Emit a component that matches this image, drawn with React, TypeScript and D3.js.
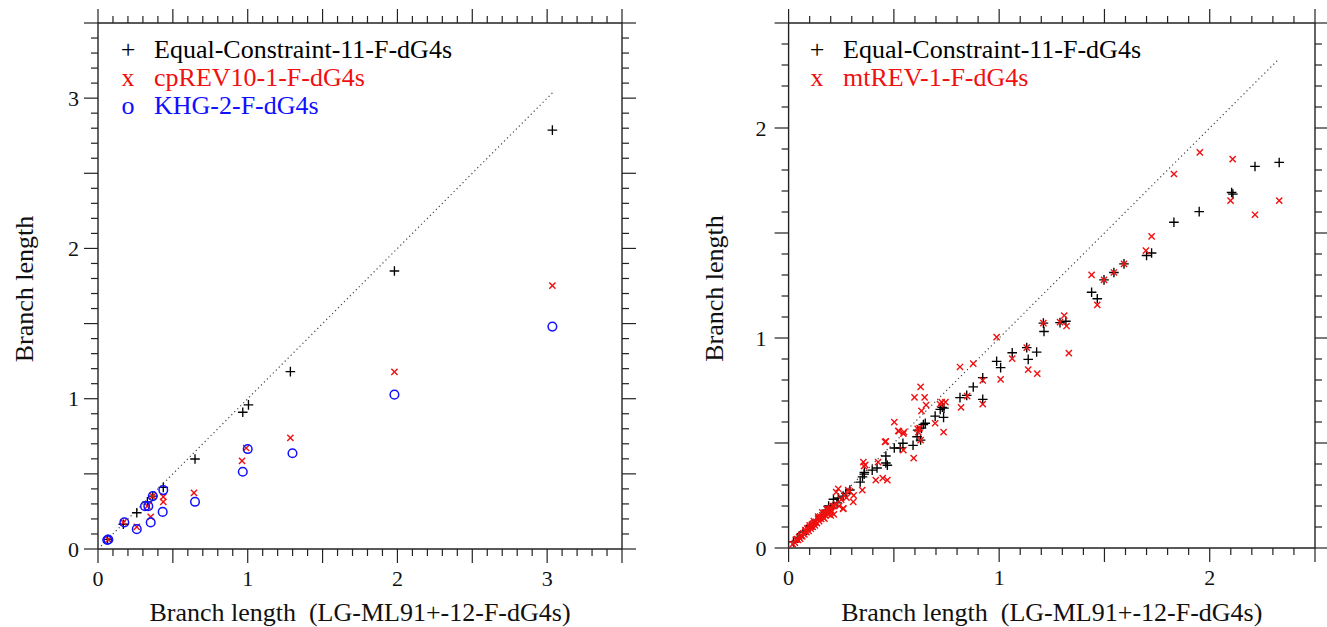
import React from 'react';
import * as d3 from 'd3';

// ---------- Data ----------
const xTitle = 'Branch length  (LG-ML91+-12-F-dG4s)';
const yTitle = 'Branch length';

const leftTickLabels = [0, 1, 2, 3];
const rightTickLabels = [0, 1, 2];

const leftLegend = ['Equal-Constraint-11-F-dG4s', 'cpREV10-1-F-dG4s', 'KHG-2-F-dG4s'];
const rightLegend = ['Equal-Constraint-11-F-dG4s', 'mtREV-1-F-dG4s'];

const leftEqual: [number, number][] = [
  [0.064, 0.064], [0.169, 0.165], [0.259, 0.241], [0.33, 0.314], [0.366, 0.352],
  [0.436, 0.41], [0.648, 0.599], [0.967, 0.91], [1.005, 0.959], [1.285, 1.18],
  [1.98, 1.85], [3.035, 2.787],
];
const leftCpREV: [number, number][] = [
  [0.069, 0.063], [0.169, 0.177], [0.259, 0.147], [0.33, 0.285], [0.352, 0.214],
  [0.366, 0.352], [0.436, 0.347], [0.436, 0.314], [0.641, 0.373], [0.962, 0.587],
  [0.99, 0.672], [1.285, 0.739], [1.98, 1.179], [3.035, 1.752],
];
const leftKHG: [number, number][] = [
  [0.069, 0.063], [0.062, 0.06], [0.176, 0.177], [0.259, 0.132], [0.314, 0.285],
  [0.336, 0.285], [0.352, 0.177], [0.366, 0.352], [0.432, 0.247], [0.436, 0.392],
  [0.648, 0.314], [0.967, 0.514], [1.0, 0.665], [1.299, 0.637], [1.98, 1.027],
  [3.035, 1.48],
];

const rightEqual: [number, number][] = [
  [2.33, 1.836], [2.215, 1.817], [2.104, 1.693], [2.11, 1.685], [1.95, 1.602],
  [1.83, 1.551], [1.724, 1.405], [1.7, 1.393], [1.593, 1.353], [1.545, 1.312],
  [1.498, 1.277], [1.439, 1.218], [1.466, 1.187], [1.317, 1.08], [1.289, 1.073],
  [1.21, 1.071], [1.213, 1.031], [1.178, 0.933], [1.131, 0.954], [1.138, 0.898],
  [1.062, 0.93], [0.988, 0.889], [1.007, 0.859], [0.922, 0.811], [0.877, 0.767],
  [0.922, 0.708], [0.846, 0.727], [0.814, 0.716],
  [0.738, 0.666], [0.73, 0.67], [0.736, 0.622], [0.72, 0.66], [0.696, 0.628],
  [0.649, 0.594], [0.64, 0.588], [0.631, 0.571], [0.613, 0.561], [0.627, 0.514],
  [0.61, 0.53], [0.591, 0.489], [0.543, 0.499], [0.53, 0.476], [0.502, 0.476],
  [0.462, 0.438], [0.462, 0.405], [0.469, 0.394], [0.42, 0.381], [0.397, 0.371],
  [0.36, 0.36], [0.359, 0.352], [0.351, 0.339], [0.34, 0.314], [0.291, 0.276],
  [0.272, 0.26], [0.259, 0.247], [0.236, 0.238], [0.23, 0.215], [0.213, 0.232],
  [0.199, 0.19], [0.19, 0.2], [0.18, 0.18], [0.175, 0.171], [0.156, 0.152],
  [0.131, 0.133], [0.12, 0.11], [0.101, 0.105], [0.085, 0.085], [0.07, 0.076],
  [0.05, 0.05], [0.042, 0.048], [0.024, 0.029],
];
const rightMtREV: [number, number][] = [
  [1.953, 1.884], [2.109, 1.852], [1.83, 1.781], [2.099, 1.654], [2.33, 1.654],
  [2.215, 1.587], [1.724, 1.484], [1.697, 1.416], [1.593, 1.353], [1.545, 1.312],
  [1.498, 1.277], [1.439, 1.301], [1.466, 1.158], [1.309, 1.107], [1.32, 1.057],
  [1.289, 1.076], [1.21, 1.071], [1.331, 0.928], [1.131, 0.954], [1.062, 0.902],
  [1.138, 0.849], [1.181, 0.83], [1.007, 0.803], [0.988, 1.004], [0.877, 0.878],
  [0.814, 0.862], [0.922, 0.798], [0.922, 0.685],
  [0.819, 0.67], [0.848, 0.723], [0.745, 0.695], [0.727, 0.695], [0.719, 0.685],
  [0.736, 0.552], [0.696, 0.594], [0.627, 0.767], [0.598, 0.717], [0.646, 0.717],
  [0.653, 0.681], [0.631, 0.653], [0.622, 0.571], [0.616, 0.552], [0.627, 0.514],
  [0.613, 0.567], [0.502, 0.599], [0.524, 0.556], [0.548, 0.552], [0.594, 0.428],
  [0.462, 0.508], [0.425, 0.409], [0.414, 0.323], [0.447, 0.333], [0.469, 0.323],
  [0.355, 0.409], [0.364, 0.396], [0.358, 0.39], [0.35, 0.276], [0.309, 0.251],
  [0.236, 0.282], [0.226, 0.266], [0.259, 0.186], [0.217, 0.2], [0.283, 0.276],
  [0.29, 0.27], [0.307, 0.22], [0.26, 0.189], [0.545, 0.466], [0.458, 0.505],
  [0.545, 0.545], [0.521, 0.558],
  [0.02, 0.018], [0.03, 0.025], [0.035, 0.04], [0.045, 0.038], [0.05, 0.052],
  [0.055, 0.045], [0.06, 0.062], [0.065, 0.055], [0.07, 0.07], [0.075, 0.065],
  [0.08, 0.085], [0.085, 0.075], [0.09, 0.09], [0.095, 0.082], [0.1, 0.1],
  [0.105, 0.092], [0.11, 0.11], [0.115, 0.1], [0.12, 0.118], [0.125, 0.108],
  [0.13, 0.125], [0.135, 0.118], [0.14, 0.14], [0.145, 0.128], [0.15, 0.15],
  [0.155, 0.138], [0.16, 0.155], [0.165, 0.145], [0.17, 0.168], [0.175, 0.155],
  [0.18, 0.17], [0.185, 0.162], [0.19, 0.185], [0.195, 0.17], [0.2, 0.19],
  [0.205, 0.175], [0.21, 0.2], [0.18, 0.185], [0.16, 0.17], [0.14, 0.15],
  [0.12, 0.128], [0.1, 0.108], [0.08, 0.078], [0.06, 0.058], [0.04, 0.042],
  [0.215, 0.16], [0.225, 0.21], [0.24, 0.2], [0.25, 0.23], [0.265, 0.25],
  [0.275, 0.24], [0.2, 0.155], [0.17, 0.14], [0.145, 0.145], [0.115, 0.115],
  [0.09, 0.095],
];

// ---------- Styles ----------
const FONT = "'Liberation Serif', 'Times New Roman', Times, 'Nimbus Roman', FreeSerif, 'DejaVu Serif', serif";
const AXIS = '#222';
const BLACK = '#000';
const RED = '#f01010';
const BLUE = '#1010ff';

type Series = { data: [number, number][]; kind: 'plus' | 'cross' | 'circle'; color: string; label: string };

function marker(kind: Series['kind'], x: number, y: number, color: string, key: string) {
  if (kind === 'plus') {
    return <path key={key} d={`M${x - 4.8},${y}h9.6M${x},${y - 4.8}v9.6`} stroke={color} strokeWidth={1.35} fill="none" />;
  }
  if (kind === 'cross') {
    return <path key={key} d={`M${x - 3.1},${y - 3.1}l6.2,6.2M${x - 3.1},${y + 3.1}l6.2,-6.2`} stroke={color} strokeWidth={1.4} fill="none" />;
  }
  return <circle key={key} cx={x} cy={y} r={4.3} stroke={color} strokeWidth={1.5} fill="none" />;
}

const legendGlyph: Record<Series['kind'], string> = { plus: '+', cross: 'x', circle: 'o' };

const textStyle: React.CSSProperties = { fontFamily: FONT, whiteSpace: 'pre' };

function Panel(props: {
  left: number; right: number; top: number; bottom: number; max: number;
  tickLabels: number[]; series: Series[]; legendX: number; yTitleX: number; yLabelGap: number;
}) {
  const { left, right, top, bottom, max, tickLabels, series, legendX, yTitleX, yLabelGap } = props;
  const x = d3.scaleLinear().domain([0, max]).range([left, right]);
  const y = d3.scaleLinear().domain([0, max]).range([bottom, top]);
  const ticks = d3.range(0, Math.round(max * 10) + 1).map((i) => i / 10);
  const isMajor = (v: number) => Math.abs(v * 2 - Math.round(v * 2)) < 1e-6;
  const maj = 14, mn = 7;
  const diagMax = d3.max(series.flatMap((s) => s.data.map((d) => d[0]))) as number;

  return (
    <g>
      {/* frame lines */}
      <line x1={left} x2={right} y1={top} y2={top} stroke={AXIS} strokeWidth={1.4} />
      <line x1={left} x2={right} y1={bottom} y2={bottom} stroke={AXIS} strokeWidth={1.4} />
      <line x1={left} x2={left} y1={top} y2={bottom} stroke={AXIS} strokeWidth={1.4} />
      <line x1={right} x2={right} y1={top} y2={bottom} stroke={AXIS} strokeWidth={1.4} />
      {/* ticks */}
      {ticks.map((t) => {
        const L = isMajor(t) ? maj : mn;
        const px = x(t), py = y(t);
        return (
          <g key={'t' + t} stroke={AXIS} strokeWidth={1.2}>
            <line x1={px} x2={px} y1={top} y2={top - L} />
            <line x1={px} x2={px} y1={bottom} y2={bottom + L} />
            <line x1={left} x2={left - L} y1={py} y2={py} />
            <line x1={right} x2={right + L} y1={py} y2={py} />
          </g>
        );
      })}
      {/* tick labels */}
      {tickLabels.map((t) => (
        <text key={'xl' + t} x={x(t)} y={bottom + 37} textAnchor="middle" style={textStyle} fontSize={22} fill="#111">{t}</text>
      ))}
      {tickLabels.map((t) => (
        <text key={'yl' + t} x={left - yLabelGap} y={y(t) + 7.5} textAnchor="end" style={textStyle} fontSize={22} fill="#111">{t}</text>
      ))}
      {/* titles */}
      <text x={(left + right) / 2} y={621} textAnchor="middle" style={textStyle} fontSize={26} fill="#111">{xTitle}</text>
      <text transform={`translate(${yTitleX},${(top + bottom) / 2 + 3}) rotate(-90)`} textAnchor="middle" style={textStyle} fontSize={26} fill="#111">{yTitle}</text>
      {/* diagonal */}
      <line x1={x(0)} y1={y(0)} x2={x(diagMax)} y2={y(diagMax)} stroke="#444" strokeWidth={1.2} strokeDasharray="1.2,3" />
      {/* points */}
      {series.map((s, si) => (
        <g key={'s' + si}>
          {s.data.map((d, i) => marker(s.kind, x(d[0]), y(d[1]), s.color, `${si}-${i}`))}
        </g>
      ))}
      {/* legend */}
      {series.map((s, si) => (
        <g key={'lg' + si}>
          <text x={legendX} y={58 + si * 28} textAnchor="middle" style={textStyle} fontSize={26} fill={s.color}>{legendGlyph[s.kind]}</text>
          <text x={legendX + 26} y={58 + si * 28} style={textStyle} fontSize={26} fill={s.color}>{s.label}</text>
        </g>
      ))}
    </g>
  );
}

export default function App() {
  const leftSeries: Series[] = [
    { data: leftEqual, kind: 'plus', color: BLACK, label: leftLegend[0] },
    { data: leftCpREV, kind: 'cross', color: RED, label: leftLegend[1] },
    { data: leftKHG, kind: 'circle', color: BLUE, label: leftLegend[2] },
  ];
  const rightSeries: Series[] = [
    { data: rightEqual, kind: 'plus', color: BLACK, label: rightLegend[0] },
    { data: rightMtREV, kind: 'cross', color: RED, label: rightLegend[1] },
  ];
  return (
    <svg width={1327} height={627} style={{ position: 'absolute', left: 0, top: 0, background: '#fff' }}>
      <rect width={1327} height={627} fill="#fff" />
      <Panel left={98} right={622} top={23} bottom={549} max={3.5} tickLabels={leftTickLabels}
        series={leftSeries} legendX={128} yTitleX={33} yLabelGap={19} />
      <Panel left={788.6} right={1315} top={23} bottom={548} max={2.5} tickLabels={rightTickLabels}
        series={rightSeries} legendX={817} yTitleX={723} yLabelGap={22} />
    </svg>
  );
}
